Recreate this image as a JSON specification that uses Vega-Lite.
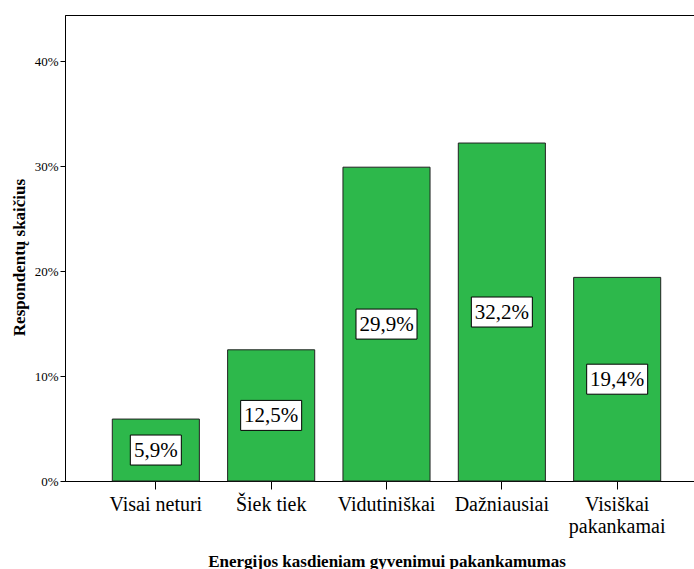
{
  "$schema": "https://vega.github.io/schema/vega-lite/v6.json",
  "width": 643,
  "height": 466,
  "autosize": "none",
  "padding": {"left": 65, "top": 15, "right": 0, "bottom": 88},
  "background": "white",
  "config": {
    "view": {"stroke": "#000000", "strokeWidth": 1},
    "font": "Liberation Serif, Times New Roman, serif"
  },
  "data": {
    "values": [
      {"category": "Visai neturi", "value": 5.9, "label": "5,9%"},
      {"category": "Šiek tiek", "value": 12.5, "label": "12,5%"},
      {"category": "Vidutiniškai", "value": 29.9, "label": "29,9%"},
      {"category": "Dažniausiai", "value": 32.2, "label": "32,2%"},
      {"category": "Visiškai pakankamai", "value": 19.4, "label": "19,4%"}
    ]
  },
  "encoding": {
    "x": {
      "field": "category",
      "type": "nominal",
      "sort": null,
      "scale": {"paddingInner": 0.245, "paddingOuter": 0.41},
      "axis": {
        "title": "Energijos kasdieniam gyvenimui pakankamumas",
        "titleFont": "Liberation Serif, Times New Roman, serif",
        "titleFontSize": 17,
        "titleFontWeight": "bold",
        "titleColor": "#000000",
        "titleX": 321.5,
        "titleY": 85,
        "titleBaseline": "alphabetic",
        "labelAngle": 0,
        "labelFont": "Liberation Serif, Times New Roman, serif",
        "labelFontSize": 20,
        "labelColor": "#000000",
        "labelPadding": 5,
        "labelLineHeight": 22,
        "labelExpr": "datum.value == 'Visiškai pakankamai' ? ['Visiškai', 'pakankamai'] : datum.label",
        "tickSize": 8,
        "tickColor": "#000000",
        "domainColor": "#000000"
      }
    }
  },
  "layer": [
    {
      "mark": {"type": "bar", "fill": "#2db84b", "stroke": "#222222", "strokeWidth": 1},
      "encoding": {
        "y": {
          "field": "value",
          "type": "quantitative",
          "scale": {"domain": [0, 44.4], "nice": false},
          "axis": {
            "title": "Respondentų skaičius",
            "titleFont": "Liberation Serif, Times New Roman, serif",
            "titleFontSize": 17,
            "titleFontWeight": "bold",
            "titleColor": "#000000",
            "titleX": -41,
            "titleY": 242,
            "titleBaseline": "alphabetic",
            "values": [0, 10, 20, 30, 40],
            "labelExpr": "datum.value + '%'",
            "labelFont": "Liberation Serif, Times New Roman, serif",
            "labelFontSize": 13,
            "labelColor": "#000000",
            "labelPadding": 2,
            "tickSize": 5,
            "tickColor": "#000000",
            "domainColor": "#000000",
            "grid": false
          }
        }
      }
    },
    {
      "mark": {"type": "point", "filled": true, "fill": "#ffffff", "stroke": "#000000", "strokeWidth": 1, "opacity": 1, "size": 4},
      "encoding": {
        "y": {
          "field": "value",
          "type": "quantitative",
          "scale": {"domain": [0, 88.8], "nice": false},
          "axis": null
        },
        "shape": {
          "condition": {"test": "datum.value < 10", "value": "M-25.5,-15H25.5V15H-25.5Z"},
          "value": "M-30.5,-15H30.5V15H-30.5Z"
        }
      }
    },
    {
      "mark": {"type": "text", "font": "Liberation Serif, Times New Roman, serif", "fontSize": 21, "baseline": "middle", "align": "center", "color": "#000000", "dy": 1},
      "encoding": {
        "y": {
          "field": "value",
          "type": "quantitative",
          "scale": {"domain": [0, 88.8], "nice": false},
          "axis": null
        },
        "text": {"field": "label"}
      }
    }
  ],
  "resolve": {"scale": {"y": "independent"}}
}
